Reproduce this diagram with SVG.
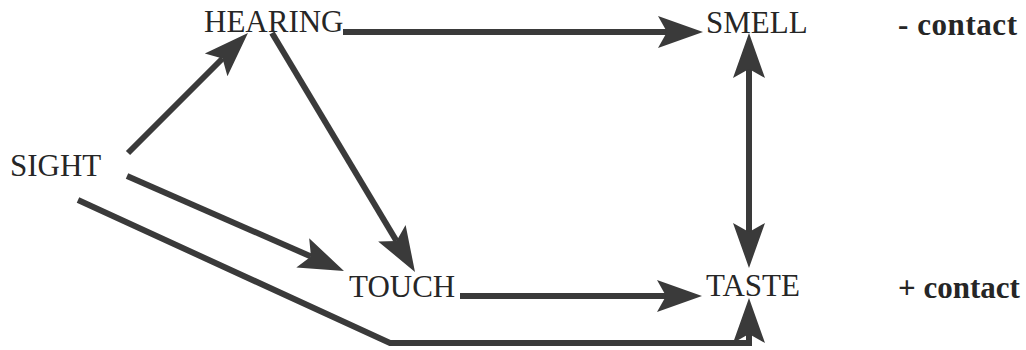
<svg xmlns="http://www.w3.org/2000/svg" width="1026" height="350" viewBox="0 0 1026 350">
<style>
.lbl{font-family:"Liberation Serif","Times New Roman",serif;font-size:31px;fill:#262626}
.leg{font-family:"Liberation Serif","Times New Roman",serif;font-size:31px;font-weight:bold;fill:#262626}
.edge{fill:none;stroke:#3a3a3a;stroke-width:6;marker-end:url(#ah)}
</style>
<defs>
<marker id="ah" viewBox="0 0 46 34" refX="9" refY="17" markerWidth="46" markerHeight="34" markerUnits="userSpaceOnUse" orient="auto-start-reverse">
<path d="M45,17 L0,1 L9,17 L0,33 Z" fill="#3a3a3a"/>
</marker>
</defs>
<rect width="1026" height="350" fill="#ffffff"/>
<g id="connectors">
<path class="edge" d="M128,153 L222.5,58.5"/>
<path class="edge" d="M272,33 L396.5,241"/>
<path class="edge" d="M343,32 L667,32" stroke-width="5"/>
<path class="edge" d="M127,176 L311,256.5"/>
<path class="edge" d="M78,200 L390,343 L749,343 L749,334" stroke-width="5"/>
<path class="edge" d="M460,296 L666,296"/>
<path class="edge" d="M749,69 L749,232" stroke-width="5" marker-start="url(#ah)"/>
</g>
<g id="node-hearing"><text class="lbl" x="204" y="32">HEARING</text></g>
<g id="node-sight"><text class="lbl" x="10" y="176">SIGHT</text></g>
<g id="node-smell"><text class="lbl" x="706" y="33">SMELL</text></g>
<g id="node-touch"><text class="lbl" x="349" y="297">TOUCH</text></g>
<g id="node-taste"><text class="lbl" x="706" y="296">TASTE</text></g>
<g id="legend-minus"><text class="leg" x="898" y="35" textLength="119">- contact</text></g>
<g id="legend-plus"><text class="leg" x="898" y="298">+ contact</text></g>
</svg>
